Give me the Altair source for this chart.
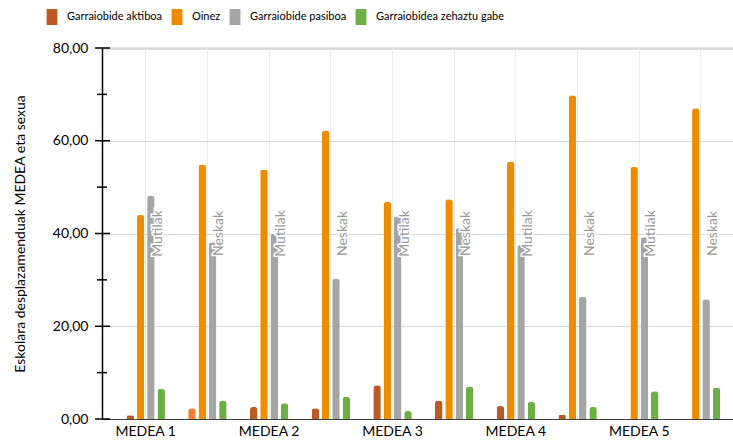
import altair as alt
import pandas as pd

# Categories
medea = ["MEDEA 1", "MEDEA 2", "MEDEA 3", "MEDEA 4", "MEDEA 5"]
sexes = ["Mutilak", "Neskak"]
series = [
    "Garraiobide aktiboa",
    "Oinez",
    "Garraiobide pasiboa",
    "Garraiobidea zehaztu gabe",
]

# Values per MEDEA / sex group (Mutilak, Neskak for each MEDEA in order)
aktiboa = [0.8, 2.3, 2.6, 2.3, 7.3, 4.0, 2.8, 0.9, 0.0, 0.0]
oinez = [44.0, 54.9, 53.8, 62.2, 46.8, 47.4, 55.5, 69.8, 54.4, 67.0]
pasiboa = [48.2, 38.1, 39.9, 30.3, 43.7, 41.2, 37.5, 26.4, 39.2, 25.8]
zehaztu = [6.5, 4.0, 3.4, 4.8, 1.7, 7.0, 3.7, 2.6, 6.0, 6.8]

# Y axis ticks
major_ticks = [0, 20, 40, 60, 80]
minor_ticks = [10, 30, 50, 70]

groups = [f"{m}|{s}" for m in medea for s in sexes]
values = dict(zip(series, [aktiboa, oinez, pasiboa, zehaztu]))

rows = []
for serie, vals in values.items():
    for g, v in zip(groups, vals):
        rows.append({"grp": g, "serie": serie, "val": v})
bars_df = pd.DataFrame(rows)
labels_df = pd.DataFrame({"grp": groups, "sex": [g.split("|")[1] for g in groups]})
ticks_df = pd.DataFrame(
    {"v": major_ticks + minor_ticks,
     "kind": ["major"] * len(major_ticks) + ["minor"] * len(minor_ticks)}
)

FONT = "Lato"
colors = ["#BD5B25", "#EE8C00", "#A5A5A5", "#6DAE45"]

x_enc = alt.X(
    "grp:N",
    sort=groups,
    scale=alt.Scale(paddingInner=0.35, paddingOuter=0.289, align=0.664),
    axis=alt.Axis(
        title=None,
        labelExpr="split(datum.value,'|')[1] == 'Mutilak' ? split(datum.value,'|')[0] : ''",
        ticks=False,
        grid=True,
        gridColor="#ebebeb",
        bandPosition=0.5,
        domainColor="#404040",
        domainWidth=1,
        labelFont=FONT,
        labelFontSize=14,
        labelColor="#000000",
        labelPadding=5,
        labelAngle=0,
    ),
)

y_scale = alt.Scale(domain=[0, 80], nice=False)

y_enc = alt.Y(
    "val:Q",
    scale=y_scale,
    axis=alt.Axis(
        values=major_ticks,
        labelExpr="replace(format(datum.value, '.2f'), '.', ',')",
        ticks=False,
        domainColor="#000000",
        domainWidth=1.5,
        gridColor="#d9d9d9",
        gridWidth={"condition": {"test": "datum.value === 80", "value": 2.5}, "value": 1},
        labelFont=FONT,
        labelFontSize=14,
        labelColor="#000000",
        labelPadding=14,
        title="Eskolara desplazamenduak MEDEA eta sexua",
        titleFont=FONT,
        titleFontSize=14,
        titleFontWeight="normal",
        titleColor="#000000",
        titleX=-82,
        titleY=185.5,
        titleAngle=270,
        titleAlign="center",
        titleBaseline="middle",
    ),
)

bars = alt.Chart(bars_df).mark_bar(
    cornerRadiusTopLeft=3, cornerRadiusTopRight=3
).encode(
    x=x_enc,
    xOffset=alt.XOffset(
        "serie:N", sort=series,
        scale=alt.Scale(paddingInner=0.27, paddingOuter=0.08),
    ),
    y=y_enc,
    color=alt.condition(
        "datum.grp === 'MEDEA 1|Neskak' && datum.serie === 'Garraiobide aktiboa'",
        alt.value("#EE7F34"),
        alt.Color(
            "serie:N",
            sort=series,
            scale=alt.Scale(domain=series, range=colors),
            legend=alt.Legend(
                title=None,
                orient="none",
                direction="horizontal",
                gridAlign="none",
                legendX=-58,
                legendY=-39,
                symbolType="M-0.68,-1H0.68V1H-0.68Z",
                symbolSize=256,
                symbolStrokeWidth=0,
                symbolOpacity=1,
                labelFont=FONT,
                labelFontSize=11,
                labelColor="#000000",
                labelOffset=7,
                columnPadding=6,
            ),
        ),
    ),
)

sex_halo = alt.Chart(labels_df).mark_text(
    angle=270, align="center", baseline="middle", dy=12,
    font=FONT, fontSize=14, stroke="white", strokeWidth=3, color="white",
).encode(x=alt.X("grp:N", sort=groups), y=alt.datum(40, scale=y_scale), text="sex:N")

sex_text = alt.Chart(labels_df).mark_text(
    angle=270, align="center", baseline="middle", dy=12,
    font=FONT, fontSize=14, color="#999999",
).encode(x=alt.X("grp:N", sort=groups), y=alt.datum(40), text="sex:N")

major_rules = alt.Chart(ticks_df).transform_filter("datum.kind === 'major'").mark_rule(
    color="#000000", strokeWidth=1.5
).encode(y=alt.Y("v:Q"), x=alt.value(-7), x2=alt.value(8))

minor_rules = alt.Chart(ticks_df).transform_filter("datum.kind === 'minor'").mark_rule(
    color="#000000", strokeWidth=1.5
).encode(y=alt.Y("v:Q"), x=alt.value(-5), x2=alt.value(5))

chart = alt.layer(bars, sex_halo, sex_text, major_rules, minor_rules).properties(
    width=631,
    height=371,
    autosize=alt.AutoSizeParams(type="none"),
    padding={"left": 102, "top": 48, "right": 0, "bottom": 21},
    background="white",
).configure_view(stroke=None)

chart.save("out.html", embed_options={"renderer": "svg", "actions": False})
